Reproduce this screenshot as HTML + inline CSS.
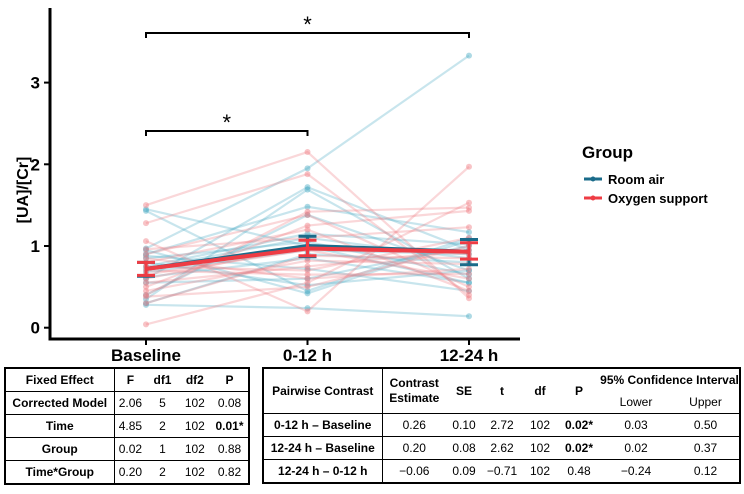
<!DOCTYPE html>
<html><head><meta charset="utf-8"><style>
body{margin:0;background:#fff;width:744px;height:494px;overflow:hidden;font-family:"Liberation Sans",Arial,sans-serif}
svg{position:absolute;left:0;top:0}
table{position:absolute;border-collapse:collapse;font-size:12px;color:#000}
td{border:1px solid #000;text-align:center;padding:0;height:22px}
.tl td{border-top:none;border-bottom:none;border-left:none;border-right:none}
.tl td.c0{border-right:1.5px solid #000;font-weight:bold}
.tl tr{border-bottom:1px solid #000}
</style></head><body>
<svg id="chart" width="744" height="365"></svg>
<table style="left:4px;top:367px;width:246px;border:2px solid #000;table-layout:fixed">
<colgroup><col style="width:109px"><col><col><col><col style="width:38px"></colgroup>
<tr><td style="font-weight:bold">Fixed Effect</td><td style="border-right:none;font-weight:bold">F</td><td style="border:none;border-top:1px solid #000;font-weight:bold">df1</td><td style="border:none;border-top:1px solid #000;font-weight:bold">df2</td><td style="border-left:none;font-weight:bold">P</td></tr>
<tr><td style="font-weight:bold">Corrected Model</td><td style="border-right:none">2.06</td><td style="border-left:none;border-right:none">5</td><td style="border-left:none;border-right:none">102</td><td style="border-left:none">0.08</td></tr>
<tr><td style="font-weight:bold">Time</td><td style="border-right:none">4.85</td><td style="border-left:none;border-right:none">2</td><td style="border-left:none;border-right:none">102</td><td style="border-left:none;font-weight:bold">0.01*</td></tr>
<tr><td style="font-weight:bold">Group</td><td style="border-right:none">0.02</td><td style="border-left:none;border-right:none">1</td><td style="border-left:none;border-right:none">102</td><td style="border-left:none">0.88</td></tr>
<tr><td style="font-weight:bold">Time*Group</td><td style="border-right:none">0.20</td><td style="border-left:none;border-right:none">2</td><td style="border-left:none;border-right:none">102</td><td style="border-left:none">0.82</td></tr>
</table>
<table style="left:262px;top:367px;width:479px;border:2px solid #000;table-layout:fixed">
<colgroup><col style="width:119px"><col style="width:64px"><col style="width:36px"><col style="width:40px"><col style="width:36px"><col style="width:42px"><col style="width:72px"><col></colgroup>
<tr><td rowspan="2" style="font-weight:bold">Pairwise Contrast</td><td rowspan="2" style="border-right:none;font-weight:bold;line-height:15px">Contrast<br>Estimate</td><td rowspan="2" style="border:none;font-weight:bold">SE</td><td rowspan="2" style="border:none;font-weight:bold">t</td><td rowspan="2" style="border:none;font-weight:bold">df</td><td rowspan="2" style="border:none;font-weight:bold">P</td><td colspan="2" style="border:none;font-weight:bold;white-space:nowrap">95% Confidence Interval</td></tr>
<tr><td style="border:none">Lower</td><td style="border:none">Upper</td></tr>
<tr><td style="font-weight:bold">0-12 h – Baseline</td><td style="border-right:none">0.26</td><td style="border-left:none;border-right:none">0.10</td><td style="border-left:none;border-right:none">2.72</td><td style="border-left:none;border-right:none">102</td><td style="border-left:none;border-right:none;font-weight:bold">0.02*</td><td style="border-left:none;border-right:none">0.03</td><td style="border-left:none">0.50</td></tr>
<tr><td style="font-weight:bold">12-24 h – Baseline</td><td style="border-right:none">0.20</td><td style="border-left:none;border-right:none">0.08</td><td style="border-left:none;border-right:none">2.62</td><td style="border-left:none;border-right:none">102</td><td style="border-left:none;border-right:none;font-weight:bold">0.02*</td><td style="border-left:none;border-right:none">0.02</td><td style="border-left:none">0.37</td></tr>
<tr><td style="font-weight:bold">12-24 h – 0-12 h</td><td style="border-right:none">−0.06</td><td style="border-left:none;border-right:none">0.09</td><td style="border-left:none;border-right:none">−0.71</td><td style="border-left:none;border-right:none">102</td><td style="border-left:none;border-right:none">0.48</td><td style="border-left:none;border-right:none">−0.24</td><td style="border-left:none">0.12</td></tr>
</table>
<script>
const categories=["Baseline","0-12 h","12-24 h"];
const yTicks=[0,1,2,3];
const roomAir=[[1.45,1.0,0.55],[1.43,0.45,1.1],[0.97,1.95,3.33],[0.28,0.24,0.14],[0.60,1.72,0.95],[0.35,1.69,0.60],[0.9,1.48,1.17],[0.4,1.38,0.7],[0.62,0.85,0.55],[0.75,1.15,1.02],[0.88,0.72,0.45],[0.95,0.42,1.07],[0.68,0.95,0.9],[0.3,0.9,0.8],[0.85,1.05,0.65],[0.55,0.6,1.0],[0.72,1.1,0.85],[0.8,0.52,0.7]];
const oxygen=[[1.5,2.15,0.36],[1.28,1.88,0.4],[1.06,0.2,1.97],[0.04,0.55,1.53],[0.4,1.42,1.47],[0.5,1.25,1.43],[0.96,1.1,1.23],[0.75,0.7,1.1],[0.6,1.0,0.9],[0.45,0.82,0.78],[0.85,0.6,0.72],[0.7,0.65,0.66],[0.38,0.5,1.0],[0.9,1.38,0.5],[0.65,0.95,0.6],[0.3,0.88,0.85],[0.55,0.75,0.95],[0.8,1.2,0.45]];
const meanRoom=[0.72,1.00,0.93], loRoom=[0.63,0.87,0.77], hiRoom=[0.80,1.12,1.08];
const meanOxy=[0.72,0.97,0.93], loOxy=[0.64,0.88,0.84], hiOxy=[0.80,1.07,1.04];
const NS="http://www.w3.org/2000/svg",svg=document.getElementById('chart');
const X=i=>146+i*161.5, Y=v=>327.7-v*81.7;
function el(t,a,p){const e=document.createElementNS(NS,t);for(const k in a)e.setAttribute(k,a[k]);(p||svg).appendChild(e);return e;}
function series(data,col,name){data.forEach((d,j)=>{const p=el('polyline',{points:d.map((v,i)=>X(i)+','+Y(v)).join(' '),fill:'none',stroke:col,'stroke-width':2.2,'stroke-opacity':0.3});

d.forEach((v,i)=>{const c=el('circle',{cx:X(i),cy:Y(v),r:3,fill:col,'fill-opacity':0.45});});});}
series(roomAir,'#4aaac4','room-air');series(oxygen,'#f07a80','oxygen');
function meanLine(m,lo,hi,col,name){m.forEach((v,i)=>{const x=X(i);const e=el('path',{d:`M${x},${Y(lo[i])}V${Y(hi[i])}M${x-9},${Y(lo[i])}h18M${x-9},${Y(hi[i])}h18`,stroke:col,'stroke-width':3,fill:'none'});});
const l=el('polyline',{points:m.map((v,i)=>X(i)+','+Y(v)).join(' '),fill:'none',stroke:col,'stroke-width':4});}
meanLine(meanRoom,loRoom,hiRoom,'#1a6b8a','room-air');meanLine(meanOxy,loOxy,hiOxy,'#ee3c44','oxygen');
const ax=el('path',{d:'M50,8V339H520',stroke:'#000','stroke-width':3,fill:'none'});
yTicks.forEach(v=>{el('line',{x1:44,x2:50,y1:Y(v),y2:Y(v),stroke:'#000','stroke-width':2});const t=el('text',{x:40,y:Y(v)+6,'text-anchor':'end','font-size':17,'font-weight':'bold'});t.textContent=v;});
categories.forEach((c,i)=>{el('line',{x1:X(i),x2:X(i),y1:339,y2:345,stroke:'#000','stroke-width':2});const t=el('text',{x:X(i),y:361,'text-anchor':'middle','font-size':17,'font-weight':'bold'});t.textContent=c;});
const yt=el('text',{x:28,y:190,'text-anchor':'middle','font-size':16,'font-weight':'bold',transform:'rotate(-90 28 190)'});yt.textContent='[UA]/[Cr]';
[[0,2,33,20],[0,1,131,118]].forEach(b=>{const p=el('path',{d:`M${X(b[0])},${b[2]+5}V${b[2]}H${X(b[1])}V${b[2]+5}`,stroke:'#000','stroke-width':2,fill:'none'});const t=el('text',{x:(X(b[0])+X(b[1]))/2,y:b[3]+12,'text-anchor':'middle','font-size':22});t.textContent='*';});
const lt=el('text',{x:582,y:158,'font-size':17,'font-weight':'bold'});lt.textContent='Group';
[['Room air','#1a6b8a',179],['Oxygen support','#ee3c44',198]].forEach(e=>{const g=el('g',{});el('line',{x1:584,x2:602,y1:e[2],y2:e[2],stroke:e[1],'stroke-width':3},g);el('circle',{cx:593,cy:e[2],r:2.5,fill:e[1]},g);const t=el('text',{x:608,y:e[2]+5,'font-size':13,'font-weight':'bold'},g);t.textContent=e[0];});
</script>
</body></html>
